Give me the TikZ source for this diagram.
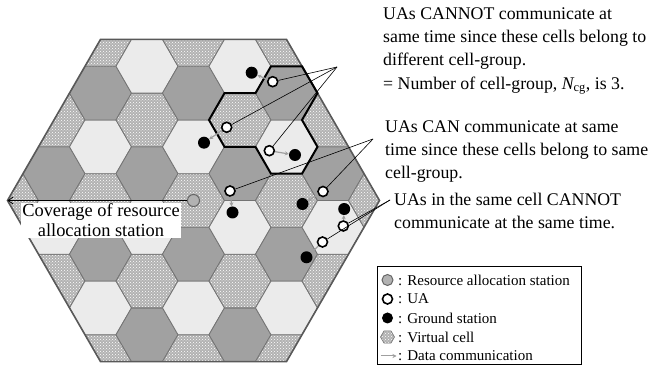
\documentclass[tikz,border=0pt]{standalone}
\usepackage{fontspec}
\setmainfont{Liberation Serif}
\usetikzlibrary{arrows.meta, patterns, positioning}

\definecolor{celldark}{gray}{0.63}
\definecolor{celllight}{gray}{0.92}
\definecolor{cellhatch}{gray}{0.70}
\definecolor{celledge}{gray}{0.45}

\tikzstyle{cell0} = [draw=celledge, line width=0.8pt, preaction={fill=cellhatch}, pattern=crosshatch dots, pattern color=white]
\tikzstyle{cell1} = [draw=celledge, line width=0.8pt, fill=celldark]
\tikzstyle{cell2} = [draw=celledge, line width=0.8pt, fill=celllight]
\tikzstyle{ua} = [circle, draw=black, line width=1.6pt, fill=white, minimum size=10pt, inner sep=0pt]
\tikzstyle{gs} = [circle, fill=black, minimum size=12pt, inner sep=0pt]
\tikzstyle{ras} = [circle, draw=gray!80!black, line width=1pt, fill=gray!60, minimum size=12pt, inner sep=0pt]
\tikzstyle{datacom} = [draw=gray!75, line width=1.2pt, -{Stealth[length=4pt,width=4pt]}]
\tikzstyle{callout} = [black, line width=0.6pt]
\tikzstyle{note} = [align=left, inner sep=0pt, font=\fontsize{17.8}{23.2}\selectfont]
\tikzstyle{legtext} = [anchor=west, inner sep=0pt, font=\fontsize{15}{17}\selectfont]

\begin{document}
\begin{tikzpicture}[x=1pt, y=1pt]
\useasboundingbox (-193.5,-170.5) rectangle (456.5,200.5);

% virtual cells, clipped to the coverage hexagon
\begin{scope}
\clip (0:186) -- (60:186) -- (120:186) -- (180:186) -- (240:186) -- (300:186) -- cycle;
\foreach \q in {-4,...,4}
  \foreach \r in {-6,...,6} {
    \pgfmathtruncatemacro\c{Mod(\q-\r,3)}
    \path[cell\c, shift={({46.5*\q},{53.69*(\r+\q/2)})}]
      (0:31) -- (60:31) -- (120:31) -- (180:31) -- (240:31) -- (300:31) -- cycle;
  }
\end{scope}
\draw[gray!70!black, line width=1.6pt] (0:186) -- (60:186) -- (120:186) -- (180:186) -- (240:186) -- (300:186) -- cycle;

% cell-group of three cells
\draw[black, line width=2pt] (15.5,80.5) -- ++(60:31) -- ++(0:31) -- ++(60:31) -- ++(0:31)
  -- ++(-60:31) -- ++(-120:31) -- ++(-60:31) -- ++(-120:31) -- ++(180:31) -- ++(120:31) -- ++(180:31) -- cycle;

% resource allocation station and its coverage
\node (ras) [ras] at (0,0) {};
\coordinate (covend) at (-186,0);
\draw[black, line width=0.8pt, -{Straight Barb[length=5pt,width=7pt]}] (ras) -- (covend);
\node (cover) [fill=white, inner sep=1pt, align=center, font=\fontsize{18.4}{20}\selectfont] at (-92.5,-20) {Coverage of resource\\allocation station};

% UAs and ground stations
\node (ua1) [ua] at (79.2,118.8) {};
\node (gs1) [gs] at (58.2,127.8) {};
\node (ua2) [ua] at (33.2,73.2) {};
\node (gs2) [gs] at (10.5,57.8) {};
\node (ua3) [ua] at (75.8,49.8) {};
\node (gs3) [gs] at (101.5,45.5) {};
\node (ua4) [ua] at (36.5,9.5) {};
\node (gs4) [gs] at (39,-12) {};
\node (ua5) [ua] at (129.5,9) {};
\node (gs5) [gs] at (109,-3.5) {};
\node (ua6) [ua] at (149.8,-25.5) {};
\node (gs6) [gs] at (150.7,-8.5) {};
\node (ua7) [ua] at (129,-41.5) {};
\node (gs7) [gs] at (113,-56.8) {};

\foreach \i in {1,...,7}
  \draw[datacom] (ua\i) -- (gs\i);

% explanations
\coordinate (cant) at (143.5,133.5);
\coordinate (can) at (179.5,61.5);
\coordinate (same) at (196.5,0.5);
\draw[callout] (cant) -- (ua1);
\draw[callout] (cant) -- (ua2);
\draw[callout] (cant) -- (ua3);
\draw[callout] (can) -- (ua4);
\draw[callout] (can) -- (ua5);
\draw[callout] (same) -- (ua6);
\draw[callout] (same) -- (ua7);

\node (note1) [note, anchor=north west] at (189.5,193) {UAs CANNOT communicate at\\same time since these cells belong to\\different cell-group.\\= Number of cell-group, {\itshape N}\textsubscript{cg}, is 3.};
\node (note2) [note, anchor=north west] at (191.5,80) {UAs CAN communicate at same\\time since these cells belong to same\\cell-group.};
\node (note3) [note, anchor=north west] at (200.5,7.5) {UAs in the same cell CANNOT\\communicate at the same time.};

% legend
\draw[black, line width=0.6pt] (183.5,-65.5) rectangle (387.5,-163.5);
\node (lgras) [ras, minimum size=11pt] at (194,-79.5) {};
\node (lgua) [ua, minimum size=10pt] at (194,-98.5) {};
\node (lggs) [gs, minimum size=11pt] at (194,-117.5) {};
\path[cell0, line width=0.6pt, shift={(194,-136.5)}]
  (0:7) -- (60:7) -- (120:7) -- (180:7) -- (240:7) -- (300:7) -- cycle;
\coordinate (lga) at (187,-155.5);
\coordinate (lgb) at (203,-155.5);
\draw[datacom, line width=1pt, -{Stealth[length=4pt,width=4pt]}] (lga) -- (lgb);
\node (t1) [legtext] at (204.5,-79.5) {: Resource allocation station};
\node (t2) [legtext] at (204.5,-98.5) {: UA};
\node (t3) [legtext] at (204.5,-117.5) {: Ground station};
\node (t4) [legtext] at (204.5,-136.5) {: Virtual cell};
\node (t5) [legtext] at (204.5,-155.5) {: Data communication};
\end{tikzpicture}
\end{document}
